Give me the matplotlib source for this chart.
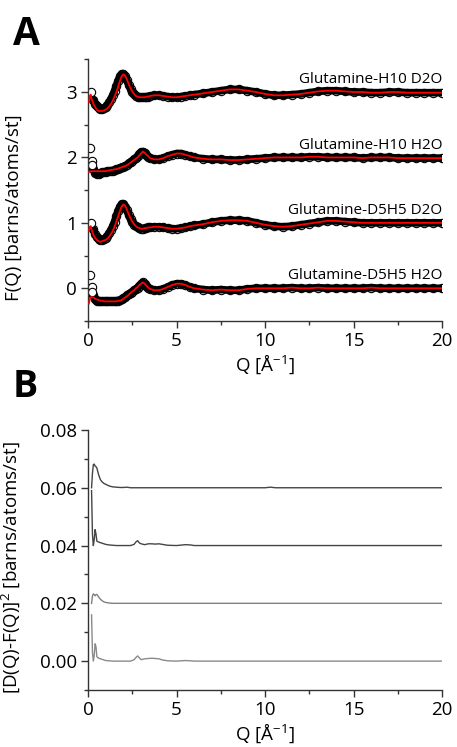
import matplotlib
matplotlib.use("Agg")
import matplotlib.pyplot as plt
from matplotlib.ticker import MultipleLocator, FormatStrFormatter

plt.rcParams['font.family'] = ['Open Sans', 'DejaVu Sans']
plt.rcParams['mathtext.fontset'] = 'custom'
plt.rcParams['mathtext.rm'] = 'Open Sans'
plt.rcParams['mathtext.it'] = 'Open Sans'

# ---- panel A: F(Q) data (circles) and fits (red) ----
labels = ['Glutamine-D5H5 H2O', 'Glutamine-D5H5 D2O',
          'Glutamine-H10 H2O', 'Glutamine-H10 D2O']
offsets_a = [0, 1, 2, 3]

q_a = [0.3, 0.4, 0.5, 0.6, 0.7, 0.8, 0.9, 1.0, 1.1, 1.2, 1.3, 1.4, 1.5, 1.6,
       1.7, 1.8, 1.9, 2.0, 2.1, 2.2, 2.3, 2.4, 2.5, 2.6, 2.7, 2.8, 2.9, 3.0,
       3.1, 3.2, 3.3, 3.4, 3.5, 3.75, 4.0, 4.25, 4.5, 4.75, 5.0, 5.25, 5.5,
       5.75, 6.0, 6.5, 7.0, 7.5, 8.0, 8.5, 9.0, 9.5, 10.0, 10.5, 11.0, 11.5,
       12.0, 12.5, 13.0, 13.5, 14.0, 14.5, 15.0, 15.5, 16.0, 16.5, 17.0, 17.5,
       18.0, 18.5, 19.0, 19.5, 20.0]

d5h5_h2o = [-0.10, -0.17, -0.20, -0.20, -0.20, -0.20, -0.20, -0.20, -0.20, -0.20,
            -0.20, -0.20, -0.20, -0.19, -0.19, -0.18, -0.17, -0.15, -0.13, -0.11,
            -0.09, -0.07, -0.05, -0.03, -0.01, 0.01, 0.04, 0.07, 0.09, 0.07,
            0.04, 0.01, -0.01, -0.03, -0.03, -0.01, 0.02, 0.05, 0.07, 0.07,
            0.05, 0.02, 0.0, -0.02, -0.03, -0.02, -0.03, -0.03, -0.01, 0.0,
            0.0, 0.0, 0.0, 0.01, 0.0, 0.0, 0.01, 0.0, 0.0, 0.0,
            0.0, 0.0, 0.01, 0.0, 0.0, 0.0, 0.0, 0.0, 0.0, 0.0, 0.0]

d5h5_d2o = [-0.10, -0.17, -0.22, -0.25, -0.26, -0.26, -0.25, -0.23, -0.20, -0.16,
            -0.11, -0.05, 0.02, 0.10, 0.18, 0.25, 0.29, 0.29, 0.25, 0.19,
            0.12, 0.06, 0.01, -0.03, -0.05, -0.07, -0.08, -0.09, -0.09, -0.08,
            -0.08, -0.07, -0.07, -0.06, -0.06, -0.07, -0.08, -0.09, -0.09, -0.08,
            -0.07, -0.05, -0.04, -0.02, 0.01, 0.03, 0.04, 0.04, 0.03, 0.0,
            -0.03, -0.05, -0.06, -0.05, -0.03, -0.01, 0.01, 0.03, 0.03, 0.02,
            0.01, 0.0, 0.0, 0.0, 0.0, 0.0, 0.0, 0.0, 0.0, 0.0, 0.0]

h10_h2o = [-0.17, -0.24, -0.25, -0.25, -0.24, -0.23, -0.22, -0.22, -0.21, -0.21,
           -0.20, -0.20, -0.19, -0.18, -0.17, -0.16, -0.15, -0.14, -0.13, -0.11,
           -0.09, -0.07, -0.05, -0.03, -0.01, 0.02, 0.05, 0.08, 0.09, 0.07,
           0.04, 0.01, -0.01, -0.03, -0.03, -0.01, 0.02, 0.04, 0.06, 0.06,
           0.04, 0.02, 0.0, -0.02, -0.03, -0.03, -0.04, -0.04, -0.03, -0.02,
           -0.01, 0.0, 0.0, 0.0, 0.0, 0.01, 0.01, 0.0, 0.0, 0.0,
           0.0, -0.01, 0.0, 0.0, 0.0, -0.01, -0.01, -0.01, -0.01, -0.01, -0.01]

h10_d2o = [-0.12, -0.18, -0.22, -0.25, -0.26, -0.26, -0.25, -0.23, -0.20, -0.16,
           -0.11, -0.05, 0.02, 0.09, 0.17, 0.24, 0.28, 0.28, 0.24, 0.18,
           0.11, 0.05, 0.0, -0.03, -0.06, -0.07, -0.08, -0.08, -0.08, -0.08,
           -0.07, -0.07, -0.06, -0.05, -0.05, -0.06, -0.07, -0.08, -0.08, -0.07,
           -0.06, -0.05, -0.04, -0.02, 0.0, 0.02, 0.04, 0.04, 0.02, 0.0,
           -0.03, -0.05, -0.05, -0.04, -0.03, -0.01, 0.01, 0.02, 0.02, 0.01,
           0.0, 0.0, -0.01, -0.01, 0.0, 0.0, -0.01, -0.01, -0.01, -0.01, -0.01]

# isolated low-Q points
q_low_pts = [[0.1, 0.2, 0.25], [0.15], [0.12, 0.2, 0.25], [0.15]]
f_low_pts = [[0.20, 0.02, -0.06], [0.0], [0.14, -0.05, -0.12], [0.0]]

# fits below Q = 3.5 (above that the fit follows the data)
q_fit_low = [0.05, 0.1, 0.15, 0.2, 0.3, 0.4, 0.5, 0.6, 0.7, 0.8, 0.9, 1.0, 1.1,
             1.2, 1.3, 1.4, 1.5, 1.6, 1.7, 1.8, 1.9, 2.0, 2.1, 2.2, 2.3, 2.4,
             2.5, 2.6, 2.7, 2.8, 2.9, 3.0, 3.1, 3.2, 3.3, 3.4]

fit_d5h5_h2o = [-0.23, -0.17, -0.14, -0.13, -0.14, -0.16, -0.17, -0.18, -0.19, -0.19,
                -0.20, -0.20, -0.20, -0.20, -0.20, -0.20, -0.20, -0.20, -0.19, -0.19,
                -0.18, -0.16, -0.14, -0.12, -0.10, -0.07, -0.05, -0.03, 0.0, 0.02,
                0.05, 0.07, 0.09, 0.07, 0.04, 0.01]
fit_d5h5_d2o = [-0.12, -0.07, -0.05, -0.10, -0.18, -0.23, -0.26, -0.28, -0.29, -0.28,
                -0.27, -0.26, -0.24, -0.21, -0.17, -0.12, -0.06, 0.02, 0.10, 0.18,
                0.25, 0.28, 0.26, 0.20, 0.13, 0.07, 0.02, -0.02, -0.05, -0.07,
                -0.08, -0.09, -0.09, -0.08, -0.08, -0.07]
fit_h10_h2o = [-0.22, -0.22, -0.21, -0.21, -0.21, -0.21, -0.21, -0.21, -0.21, -0.21,
               -0.21, -0.21, -0.20, -0.20, -0.19, -0.19, -0.18, -0.18, -0.17, -0.16,
               -0.15, -0.14, -0.13, -0.12, -0.10, -0.08, -0.06, -0.04, -0.02, 0.0,
               0.03, 0.06, 0.09, 0.07, 0.04, 0.02]
fit_h10_d2o = [-0.15, -0.08, -0.04, -0.10, -0.18, -0.23, -0.27, -0.29, -0.29, -0.29,
               -0.28, -0.27, -0.25, -0.22, -0.18, -0.13, -0.07, 0.0, 0.08, 0.17,
               0.24, 0.27, 0.25, 0.19, 0.12, 0.06, 0.01, -0.03, -0.06, -0.07,
               -0.08, -0.08, -0.08, -0.08, -0.07, -0.07]

data_a = [d5h5_h2o, d5h5_d2o, h10_h2o, h10_d2o]
fits_a = [fit_d5h5_h2o, fit_d5h5_d2o, fit_h10_h2o, fit_h10_d2o]

# ---- panel B: squared difference ----
offsets_b = [0.0, 0.02, 0.04, 0.06]
q_b = [0.2, 0.25, 0.3, 0.35, 0.4, 0.45, 0.5, 0.6, 0.7, 0.8, 0.9, 1.0, 1.2, 1.4,
       1.6, 1.8, 2.0, 2.2, 2.4, 2.6, 2.7, 2.8, 2.9, 3.0, 3.2, 3.4, 3.6, 3.8,
       4.0, 4.2, 4.5, 5.0, 5.5, 5.8, 6.0, 7.0, 8.0, 9.0, 10.0, 10.3, 10.6,
       12.0, 14.0, 16.0, 18.0, 20.0]

diff_d5h5_h2o = [0.016, 0.003, 0.0, 0.002, 0.006, 0.005, 0.0015, 0.0010, 0.0008, 0.0006,
                 0.0004, 0.0002, 0.0001, 0.0, 0.0, 0.0, 0.0, 0.0, 0.0, 0.0005,
                 0.0012, 0.0018, 0.0011, 0.0005, 0.0008, 0.0009, 0.0010, 0.0009, 0.0008, 0.0004,
                 0.0001, 0.0, 0.0002, 0.0001, 0.0, 0.0, 0.0, 0.0, 0.0, 0.0,
                 0.0, 0.0, 0.0, 0.0, 0.0, 0.0]
diff_d5h5_d2o = [0.0, 0.0025, 0.0033, 0.0030, 0.0026, 0.0030, 0.0031, 0.0022, 0.0014, 0.0009,
                 0.0005, 0.0003, 0.0001, 0.0, 0.0, 0.0, 0.0, 0.0, 0.0, 0.0,
                 0.0, 0.0, 0.0, 0.0, 0.0, 0.0, 0.0, 0.0, 0.0, 0.0,
                 0.0, 0.0, 0.0, 0.0, 0.0, 0.0, 0.0, 0.0, 0.0, 0.0,
                 0.0, 0.0, 0.0, 0.0, 0.0, 0.0]
diff_h10_h2o = [0.019, 0.004, 0.0, 0.002, 0.0055, 0.004, 0.0015, 0.0012, 0.0010, 0.0008,
                0.0006, 0.0004, 0.0002, 0.0001, 0.0, 0.0, 0.0, 0.0, 0.0, 0.0004,
                0.0012, 0.0017, 0.0009, 0.0006, 0.0003, 0.0006, 0.0006, 0.0005, 0.0006, 0.0004,
                0.0001, 0.0, 0.0003, 0.0002, 0.0, 0.0, 0.0, 0.0, 0.0, 0.0,
                0.0, 0.0, 0.0, 0.0, 0.0, 0.0]
diff_h10_d2o = [0.0, 0.005, 0.0080, 0.0082, 0.0075, 0.0073, 0.0068, 0.0045, 0.0028, 0.0020,
                0.0015, 0.0012, 0.0006, 0.0003, 0.0002, 0.0001, 0.0001, 0.0002, 0.0, 0.0,
                0.0, 0.0, 0.0, 0.0, 0.0, 0.0, 0.0, 0.0, 0.0, 0.0,
                0.0, 0.0, 0.0, 0.0, 0.0, 0.0, 0.0, 0.0, 0.0, 0.0002,
                0.0, 0.0, 0.0, 0.0, 0.0, 0.0]
data_b = [diff_d5h5_h2o, diff_d5h5_d2o, diff_h10_h2o, diff_h10_d2o]
colors_b = ['#8a8a8a', '#808080', '#454545', '#454545']

fig = plt.figure(figsize=(4.57, 7.47), dpi=100)
ax_a = fig.add_axes([0.1926, 0.5703, 0.775, 0.3503])
ax_b = fig.add_axes([0.1926, 0.0763, 0.775, 0.3481])

n_low = len(q_fit_low) - 4  # index in q_a where 3.5 starts
for i in range(4):
    off = offsets_a[i]
    vals = [v + off for v in data_a[i]]
    ax_a.plot(q_a, vals, '-', color='black', lw=5.5, zorder=2,
              solid_capstyle='round')
    ax_a.plot(q_a, vals, 'o', ms=6, mfc='none', mec='black', mew=0.8, zorder=2)
    ax_a.plot(q_low_pts[i], [v + off for v in f_low_pts[i]], 'o', ms=6,
              mfc='white', mec='black', mew=0.8, zorder=2)
    fit_q = q_fit_low + q_a[n_low:]
    fit_v = fits_a[i] + data_a[i][n_low:]
    ax_a.plot(fit_q, [v + off for v in fit_v], '-', color='red', lw=1.3, zorder=3)
    ax_a.text(20, off + 0.19, labels[i], ha='right', va='center', fontsize=11)

for i in range(4):
    ax_b.plot(q_b, [v + offsets_b[i] for v in data_b[i]], '-',
              color=colors_b[i], lw=1.0)

for ax in (ax_a, ax_b):
    ax.set_xlim(0, 20)
    ax.spines['top'].set_visible(False)
    ax.spines['right'].set_visible(False)
    for s in ('left', 'bottom'):
        ax.spines[s].set_color('#333333')
        ax.spines[s].set_linewidth(1.0)
    ax.xaxis.set_major_locator(MultipleLocator(5))
    ax.xaxis.set_minor_locator(MultipleLocator(2.5))
    ax.tick_params(which='major', direction='out', length=5, width=1,
                   color='#333333', labelsize=13.5, pad=3)
    ax.tick_params(which='minor', direction='out', length=3, width=1,
                   color='#333333')
    ax.set_xlabel('Q [Å$^{-1}$]', fontsize=13.5, labelpad=2)

ax_a.set_ylim(-0.5, 3.5)
ax_a.yaxis.set_major_locator(MultipleLocator(1))
ax_a.yaxis.set_minor_locator(MultipleLocator(0.5))
ax_a.set_ylabel('F(Q) [barns/atoms/st]', fontsize=13.5)
ax_a.yaxis.set_label_coords(-0.185, 0.434)

ax_b.set_ylim(-0.01, 0.08)
ax_b.yaxis.set_major_locator(MultipleLocator(0.02))
ax_b.yaxis.set_minor_locator(MultipleLocator(0.01))
ax_b.yaxis.set_major_formatter(FormatStrFormatter('%.2f'))
ax_b.set_ylabel('[D(Q)-F(Q)]$^2$ [barns/atoms/st]', fontsize=13.5)
ax_b.yaxis.set_label_coords(-0.185, 0.469)

fig.text(0.028, 0.98, 'A', fontsize=28, fontweight='bold', va='top')
fig.text(0.028, 0.507, 'B', fontsize=27, fontweight='bold', va='top')

fig.savefig('out.png', dpi=100)
